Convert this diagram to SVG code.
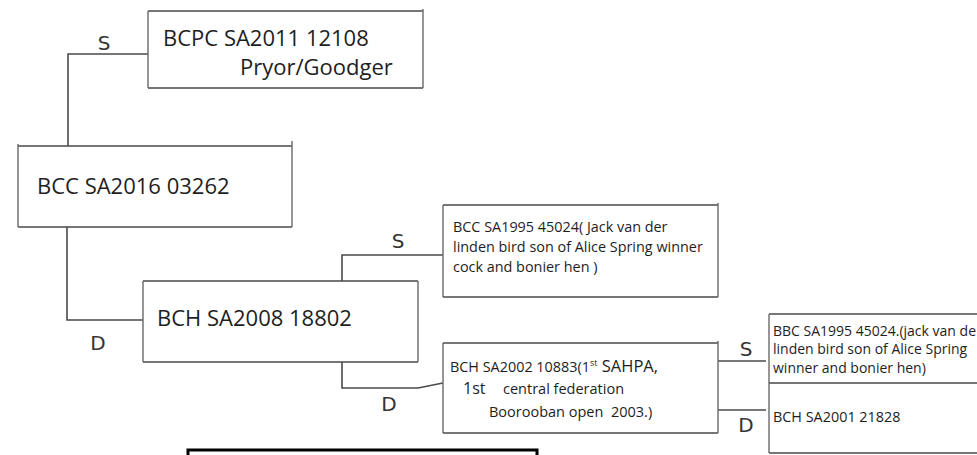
<svg xmlns="http://www.w3.org/2000/svg" width="977" height="455" viewBox="0 0 977 455">
<style>
.bg{fill:#ffffff}
.h{fill:none;stroke:#4a4a4a;stroke-width:1.6}
.v{fill:none;stroke:#6a6a6a;stroke-width:1.4}
.c{fill:none;stroke:#4a4a4a;stroke-width:1.6}
.t{font-family:"Open Sans","Liberation Sans",sans-serif;fill:#1e1e1e}
.big{font-size:22px}
.sm{font-size:14.4px}
.xs{font-size:14px}
.lab{font-family:"DejaVu Sans",sans-serif;font-size:20px;fill:#333;text-anchor:middle}
.frame{fill:none;stroke:#000;stroke-width:3}
</style>
<rect class="bg" x="0" y="0" width="977" height="455"/>
<g id="connectors">
<path class="c" d="M148,54 H68 V146"/>
<path class="c" d="M67,227 V320 H143"/>
<path class="c" d="M342,281 V255 H443"/>
<path class="c" d="M342,362 V388 H418 L443,383"/>
<path class="c" d="M718,361 H766"/>
<path class="c" d="M718,410 H766"/>
<text class="lab" x="104" y="50">S</text>
<text class="lab" x="98" y="350">D</text>
<text class="lab" x="398" y="248">S</text>
<text class="lab" x="389" y="411">D</text>
<text class="lab" x="746" y="356">S</text>
<text class="lab" x="746" y="432">D</text>
</g>
<g id="node-bcpc">
<path class="h" d="M148,11 H423 M148,88 H423"/>
<path class="v" d="M148,11 V88 M423,9 V88"/>
<text class="t big" x="163" y="46">BCPC SA2011 12108</text>
<text class="t big" x="240" y="75">Pryor/Goodger</text>
</g>
<g id="node-bcc">
<path class="h" d="M18,146 H292 M18,227 H292"/>
<path class="v" d="M18,144 V227 M292,141 V227"/>
<text class="t big" x="37" y="194">BCC SA2016 03262</text>
</g>
<g id="node-bch">
<path class="h" d="M143,281 H418 M143,362 H418"/>
<path class="v" d="M143,281 V362 M418,281 V362"/>
<text class="t big" x="157" y="326">BCH SA2008 18802</text>
</g>
<g id="node-sire">
<path class="h" d="M443,205 H718 M443,297 H718"/>
<path class="v" d="M443,205 V297 M718,203 V297"/>
<text class="t sm" x="453" y="232">BCC SA1995 45024( Jack van der</text>
<text class="t sm" x="453" y="252">linden bird son of Alice Spring winner</text>
<text class="t sm" x="453" y="272">cock and bonier hen )</text>
</g>
<g id="node-dam">
<path class="h" d="M443,343 H718 M443,433 H718"/>
<path class="v" d="M443,343 V433 M718,341 V433"/>
<text class="t" x="450" y="372"><tspan font-size="14.4">BCH SA2002 10883(1</tspan><tspan font-size="9" dy="-6">st</tspan><tspan font-size="16.5" dy="6"> SAHPA,</tspan></text>
<text class="t" x="463" y="394" font-size="16">1st</text>
<text class="t" x="503" y="394" font-size="14.5">central federation</text>
<text class="t" x="489" y="417" font-size="14.5">Boorooban open &#160;2003.)</text>
</g>
<g id="node-sire2">
<path class="h" d="M769,314 H977"/>
<path class="v" d="M769,314 V383"/>
<text class="t xs" x="773" y="336">BBC SA1995 45024.(jack van de</text>
<text class="t xs" x="773" y="354">linden bird son of Alice Spring</text>
<text class="t xs" x="773" y="373">winner and bonier hen)</text>
</g>
<g id="node-dam2">
<path class="h" d="M769,383 H977 M769,453 H977"/>
<path class="v" d="M769,383 V453"/>
<text class="t sm" x="773" y="422">BCH SA2001 21828</text>
</g>
<g id="frame">
<rect class="frame" x="188" y="450" width="349" height="20"/>
</g>
</svg>
